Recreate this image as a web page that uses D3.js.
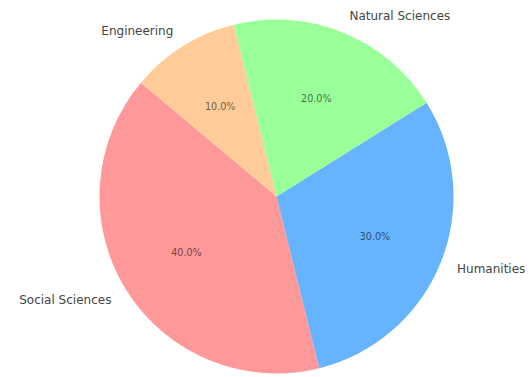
<!DOCTYPE html>
<html><head><meta charset="utf-8">
<script src="https://cdn.jsdelivr.net/npm/d3@7"></script>
<style>body{margin:0;background:#fff}svg{display:block}</style>
</head><body>
<svg id="c" width="532" height="377"></svg>
<script>
const categories = ["Social Sciences", "Humanities", "Natural Sciences", "Engineering"];
const values = [40, 30, 20, 10];
const colors = ["#ff9999", "#66b3ff", "#99ff99", "#ffcc99"];

const svg = d3.select("#c");
const cx = 276.5, cy = 196.5, R = 177;
const g = svg.append("g").attr("transform", `translate(${cx},${cy})`);
const start = (90 - 140) * Math.PI / 180;
const pie = d3.pie().sort(null).startAngle(start).endAngle(start - 2 * Math.PI);
const arcs = pie(values);
const arc = d3.arc().innerRadius(0).outerRadius(R);
const labelArc = d3.arc().innerRadius(R * 1.1).outerRadius(R * 1.1);
const pctArc = d3.arc().innerRadius(R * 0.6).outerRadius(R * 0.6);
const total = d3.sum(values);

g.selectAll("path.s").data(arcs).join("path").attr("class", "s")
  .attr("d", arc).attr("fill", (d, i) => colors[i]);

g.selectAll("text.l").data(arcs).join("text").attr("class", "l")
  .attr("x", d => labelArc.centroid(d)[0]).attr("y", d => labelArc.centroid(d)[1])
  .attr("text-anchor", d => labelArc.centroid(d)[0] < 0 ? "end" : "start")
  .attr("dominant-baseline", "central")
  .attr("font-family", "DejaVu Sans").attr("font-size", 12).attr("fill", "#444")
  .text((d, i) => categories[i]);

g.selectAll("text.p").data(arcs).join("text").attr("class", "p")
  .attr("x", d => pctArc.centroid(d)[0]).attr("y", d => pctArc.centroid(d)[1])
  .attr("text-anchor", "middle").attr("dominant-baseline", "central")
  .attr("font-family", "DejaVu Sans").attr("font-size", 9.6).attr("fill", "rgba(0,0,0,0.6)")
  .text(d => (d.value / total * 100).toFixed(1) + "%");
</script>
</body></html>
